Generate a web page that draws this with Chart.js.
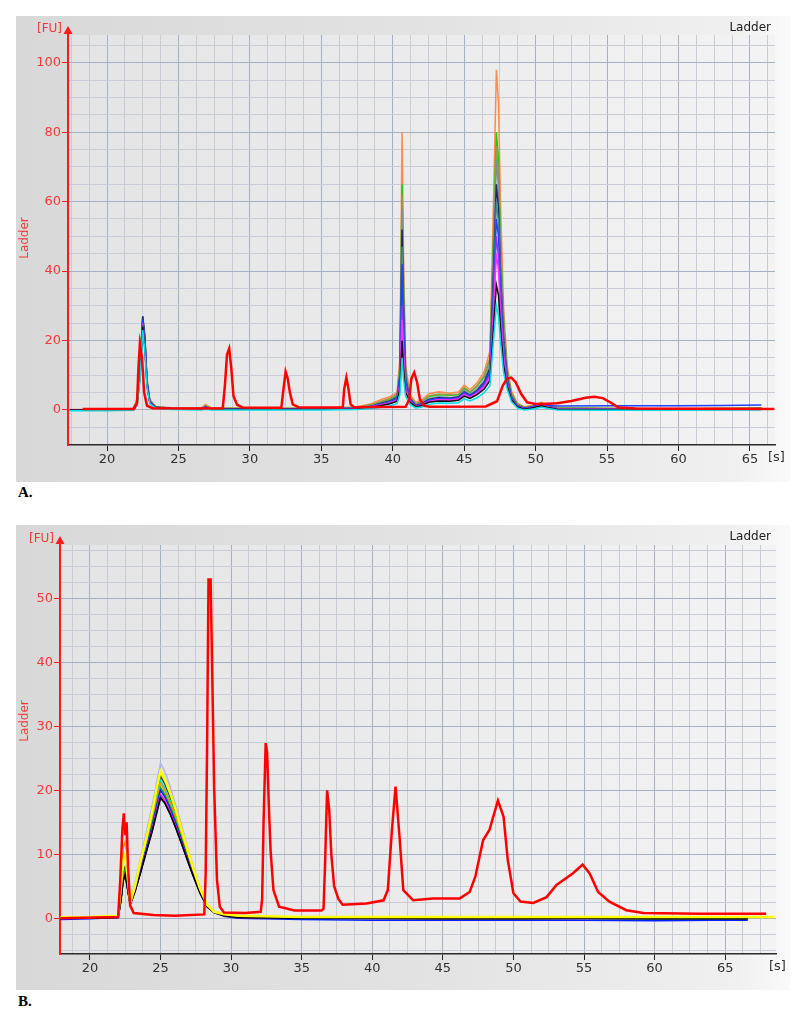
<!DOCTYPE html>
<html><head><meta charset="utf-8">
<script src="https://cdn.jsdelivr.net/npm/chart.js@4.4.0/dist/chart.umd.min.js"></script>
<style>
html,body{margin:0;padding:0;background:#fff;width:800px;height:1020px;overflow:hidden}
canvas{position:absolute}
#ca{left:16px;top:16px;width:774px;height:466px}
#cb{left:16px;top:525px;width:774px;height:465px}
.lab{position:absolute;font:bold 15px "Liberation Serif",serif;line-height:15px;left:18px}
</style></head><body>
<canvas id="ca" width="774" height="466"></canvas>
<div class="lab" style="top:485px">A.</div>
<canvas id="cb" width="774" height="465"></canvas>
<div class="lab" style="top:994px">B.</div>
<script>
// ---------- Panel A data ----------
const xTickLabelsA = [20, 25, 30, 35, 40, 45, 50, 55, 60, 65];
const yTickLabelsA = [0, 20, 40, 60, 80, 100];

const ladderTimesA = [18.3, 21.9, 22.1, 22.2, 22.3, 22.45, 22.6, 22.8, 23.2, 26, 28.1, 28.25, 28.4, 28.55, 28.7, 28.85, 29.1, 29.5, 32.2, 32.35, 32.5, 32.65, 32.8, 33.0, 33.4, 36.5, 36.6, 36.75, 36.9, 37.05, 37.3, 40.9, 41.15, 41.3, 41.5, 41.7, 41.9, 42.2, 42.6, 46.5, 47.3, 47.7, 48.0, 48.3, 48.6, 49.0, 49.4, 49.9, 50.5, 51.5, 52.5, 53.5, 54.1, 54.7, 55.3, 55.8, 57, 66.7];
const ladderValuesA = [0.3, 0.3, 2, 12, 19, 15, 5, 1.2, 0.5, 0.4, 0.5, 7, 16, 17.7, 12, 4, 1.5, 0.7, 0.6, 6, 11, 9, 5, 1.6, 0.8, 0.7, 6, 9.3, 6, 1.6, 0.8, 0.9, 3, 9, 10.8, 8, 3, 1.2, 0.9, 1.0, 2.5, 7, 9, 9.3, 8, 4.5, 2.2, 1.8, 1.7, 1.9, 2.6, 3.5, 3.8, 3.4, 2, 0.7, 0.4, 0.3];

const sampleTimesA = [17.4, 20, 21.8, 22.1, 22.3, 22.5, 22.65, 22.8, 23.0, 23.4, 24.5, 26.6, 26.9, 27.3, 30, 35, 37.5, 38.5, 39.2, 39.8, 40.3, 40.5, 40.65, 40.75, 40.9, 41.2, 41.6, 42.0, 42.5, 43.2, 44.0, 44.6, 45.0, 45.4, 45.9, 46.4, 46.8, 47.05, 47.25, 47.4, 47.55, 47.75, 48.0, 48.3, 48.7, 49.2, 49.8, 50.4, 50.8, 51.5, 55, 60, 63, 65.8];
const orangeA = [0.1,0.2,0.3,3,14,26,20,9,3,1,0.6,0.6,1.6,0.6,0.5,0.5,0.9,1.8,3,3.8,5,15,80,45,13,4.5,2.2,2.8,4.6,5.2,4.8,5.2,7.2,5.8,7.8,11,17,60,98,88,58,30,13,5.5,2,0.9,1.3,2.2,1.5,0.7,0.5,0.4,0.5,0.6];
const oliveA = [0,0.1,0.2,2.6,12,27,21,8.5,2.8,1,0.5,0.5,1.2,0.5,0.4,0.4,0.7,1.5,2.5,3.3,4.5,13,62,36,11,4,1.8,2.3,4,4.6,4.4,4.6,6.5,5.2,7,10,15,48,76,68,45,25,11,4.6,1.6,0.7,1.1,1.9,1.3,0.6,0.4,0.3,0.4,0.4];
const greenA = [0,0.1,0.2,2.5,12,27,21,8,2.6,0.9,0.5,0.4,1.1,0.4,0.4,0.4,0.7,1.4,2.3,3.1,4.2,12,65,37,10.5,3.8,1.7,2.1,3.8,4.4,4.2,4.4,6.2,5,6.8,9.5,14.5,50,80,72,47,26,11.5,4.8,1.7,0.7,1.1,1.9,1.3,0.6,0.4,0.3,0.4,0.5];
const steelA = [0,0,0.1,2.2,11,26,20,8,2.4,0.8,0.4,0.4,0.9,0.4,0.3,0.4,0.6,1.2,2,2.7,3.8,11,58,33,9.5,3.4,1.5,1.8,3.2,3.8,3.6,3.9,5.6,4.5,6,8.5,13,44,72,64,42,23,10,4.2,1.4,0.5,0.9,1.7,1.1,0.5,0.3,0.3,0.3,0.4];
const navyA = [0,0,0.1,2,11,27,21,8,2.4,0.8,0.4,0.3,0.8,0.3,0.3,0.3,0.5,1.1,1.9,2.6,3.6,10,52,30,9,3.2,1.4,1.7,3,3.5,3.4,3.7,5.2,4.2,5.6,8,12,40,65,58,38,21,9.5,4,1.3,0.5,0.9,1.6,1,0.4,0.3,0.3,0.3,0.4];
const tealA = [0,0,0.1,2,10,25,19,7.5,2.2,0.7,0.3,0.3,0.7,0.3,0.3,0.3,0.5,1,1.7,2.4,3.3,9.5,47,27,8.5,3,1.3,1.5,2.7,3.2,3.1,3.4,4.8,3.9,5.2,7.5,11,36,60,54,36,20,9,3.8,1.2,0.4,0.8,1.5,0.9,0.4,0.2,0.2,0.3,0.3];
const blueA = [-0.1,0,0.1,2,11,26,20,8,2.3,0.8,0.4,0.3,0.8,0.3,0.3,0.3,0.5,1,1.6,2.3,3.2,9,42,25,8,3,1.3,1.6,2.8,3.3,3.2,3.5,5,4.1,5.4,7.6,11,34,55,50,34,19,8.5,3.6,1.2,0.5,0.9,1.7,1.3,1.1,1.2,1.2,1.3,1.4];
const purpleA = [0,0,0.1,1.8,10,25,19,7.5,2.2,0.7,0.3,0.3,0.7,0.3,0.2,0.3,0.4,0.9,1.5,2.1,2.9,7.5,30,18,6.5,2.5,1.1,1.4,2.5,3,2.9,3.2,4.6,3.7,5,7,10,30,50,44,30,17,8,3.4,1.1,0.3,0.7,1.4,0.9,0.3,0.2,0.1,0.2,0.2];
const magentaA = [0,0,0.1,1.8,10,24,18,7,2.1,0.7,0.3,0.3,0.6,0.3,0.2,0.3,0.4,0.9,1.4,2,2.8,7,26,16,6,2.4,1.1,1.3,2.4,2.9,2.8,3.1,4.4,3.6,4.8,6.6,9.5,28,45,40,27,15,7.5,3.2,1,0.3,0.7,1.3,0.9,0.3,0.2,0.1,0.2,0.2];
const blackA = [0,0,0,1.5,9,24,18,7,2,0.6,0.2,0.2,0.5,0.2,0.2,0.2,0.3,0.8,1.3,1.8,2.5,6,20,12,5,2.2,1,1.2,2.2,2.6,2.5,2.8,4,3.3,4.4,6,8.5,24,36,33,23,13,7,3,0.9,0.2,0.6,1.2,0.8,0.2,0.1,0.1,0.1,0.2];
const cyanA = [-0.2,-0.2,-0.1,1.2,8,23,17,6.5,1.8,0.5,0.1,0,0.2,0,0,0,0.1,0.4,0.8,1.2,1.8,4.5,15,9,4,1.6,0.6,0.8,1.6,2,1.9,2.1,3.2,2.6,3.5,5,7,20,30,27,19,11,6,2.4,0.6,0,0.3,0.8,0.5,0,-0.1,-0.1,0,0];

// ---------- Panel B data ----------
const xTickLabelsB = [20, 25, 30, 35, 40, 45, 50, 55, 60, 65];
const yTickLabelsB = [0, 10, 20, 30, 40, 50];

const ladderTimesB = [17.9, 22.0, 22.15, 22.3, 22.4, 22.5, 22.6, 22.7, 22.85, 23.1, 24.5, 26, 28.1, 28.2, 28.3, 28.4, 28.55, 28.65, 28.8, 29.0, 29.2, 29.5, 31, 32.1, 32.2, 32.3, 32.45, 32.55, 32.7, 32.8, 33.0, 33.4, 34.5, 36.4, 36.55, 36.65, 36.8, 36.95, 37.1, 37.3, 37.6, 37.9, 39.6, 40.8, 41.1, 41.4, 41.65, 41.95, 42.2, 42.9, 44.3, 46.2, 46.9, 47.3, 47.85, 48.3, 48.9, 49.3, 49.6, 50.0, 50.5, 51.4, 52.35, 53.05, 54.2, 54.9, 55.4, 56.0, 56.8, 58.0, 59.2, 63.2, 67.9];
const ladderValuesB = [0, 0.2, 6, 14, 16.4, 13, 15, 8, 2, 0.8, 0.5, 0.4, 0.6, 7, 27, 53, 53, 40, 20.5, 6, 1.8, 0.9, 0.8, 1, 3, 15, 27.4, 26, 16, 10.5, 4.4, 1.8, 1.2, 1.2, 1.5, 8, 20, 17, 10, 5, 3, 2.1, 2.3, 2.8, 4.4, 14, 20.6, 12.2, 4.4, 2.8, 3.1, 3.1, 4.1, 6.5, 12.2, 13.8, 18.4, 15.9, 9.1, 3.9, 2.6, 2.4, 3.3, 5.2, 7, 8.4, 7, 4.1, 2.6, 1.25, 0.8, 0.7, 0.7];

const sampleTimesB = [17.9, 20, 22.0, 22.2, 22.35, 22.5, 22.65, 22.85, 23.2, 23.6, 24.0, 24.4, 24.75, 25.0, 25.3, 25.7, 26.1, 26.5, 26.9, 27.3, 27.8, 28.3, 28.8, 29.5, 30.5, 35, 40, 45, 50, 55, 60, 64, 66.6, 68.5];
const yellowB = [0.1,0.2,0.4,5,9,10,7,2.4,5,9,12.5,16.5,20.5,23,21.8,19.5,16.8,13.8,10.8,7.9,4.6,2.1,1,0.6,0.4,0.2,0.2,0.2,0.2,0.2,0.2,0.2,0.2,0.2];
const lavenderB = [0,0.1,0.3,3,6,7,5,2.6,5.5,9.5,13.5,17.5,21.5,24.3,23,20.5,17.5,14.5,11.2,8.3,4.8,2.2,1.1,0.6,0.3,0.1,0.1,0.1,0,0,0,0,0,null];
const limeB = [0,0.2,0.3,4,7,8,6,2.5,5,8.8,12.3,16,20,22.6,21.5,19.2,16.5,13.6,10.6,7.8,4.5,2,1,0.5,0.3,0.2,0.1,0.2,0.1,0.1,0.1,0.1,0.1,null];
const grayB = [0,0,0.2,3.5,7,8,5.5,2.3,4.8,8.5,12,15.8,19.6,22.2,21,18.8,16.2,13.4,10.4,7.6,4.4,2,1,0.5,0.2,0,0,0,0,0,0,0,0,null];
const orangeB = [0,0.1,0.4,6,11,12,7,2.3,4.6,8,11.5,15,18.6,21,20,18,15.5,12.8,10,7.3,4.3,2,1,0.5,0.3,0.1,0.1,0.1,0,0.1,0,0.1,0.1,null];
const greenB = [0,0.1,0.2,3,6.5,7.5,5,2.2,4.4,7.8,11.2,14.6,18,20.4,19.4,17.4,15,12.4,9.7,7.1,4.1,1.9,0.9,0.5,0.2,0.1,0,0.1,0,0,-0.1,-0.1,-0.1,null];
const cyanB = [0,0,0.2,3,6.5,7.5,5,2.3,4.7,8.2,11.7,15.2,19,21.5,20.4,18.3,15.8,13,10.1,7.4,4.3,2,1,0.5,0.2,0,0,0,0,0,-0.1,0,0,null];
const blueB = [-0.2,-0.1,0.1,3,6,7,5,2.2,4.4,7.7,11,14.3,17.7,20,19,17,14.7,12.1,9.5,7,4.1,1.9,0.9,0.3,0,-0.2,-0.3,-0.3,-0.3,-0.3,-0.4,-0.3,-0.3,null];
const magentaB = [0,0,0.2,3,6,7,5,2.2,4.3,7.5,10.7,13.9,17.2,19.4,18.5,16.6,14.3,11.8,9.3,6.8,4,1.8,0.9,0.4,0.1,0,0,0,0,0,0,0,0,null];
const purpleB = [0,0,0.1,2.8,5.8,6.8,4.8,2.1,4.2,7.3,10.5,13.6,16.8,19,18.1,16.3,14,11.6,9.1,6.7,3.9,1.8,0.9,0.4,0.1,0,-0.1,-0.1,-0.1,-0.1,-0.1,-0.1,-0.1,null];
const blackB = [0,0,0.1,2.8,5.8,6.8,4.8,2.1,4.2,7.2,10.4,13.5,16.6,18.8,18,16.2,14,11.6,9.1,6.7,3.9,1.8,0.9,0.4,0.1,0,0,-0.1,-0.1,0,-0.1,-0.1,-0.1,null];

// ---------- helpers ----------
function pts(times, vals) { return times.map((t, i) => ({ x: t, y: vals[i] })); }
function steps(from, to, step) { const a = []; for (let k = 0; from + k * step <= to + 1e-9; k++) a.push(Math.round((from + k * step) * 1000) / 1000); return a; }
function ds(label, times, vals, color, w) {
  return { label, data: pts(times, vals), borderColor: color, borderWidth: w, pointRadius: 0, tension: 0, fill: false, spanGaps: false };
}

const deco = {
  id: 'deco',
  beforeDraw(chart) {
    const { ctx, width, height, chartArea: a } = chart;
    ctx.save();
    const g = ctx.createLinearGradient(0, 0, width, 0);
    g.addColorStop(0, '#d8d8d8');
    g.addColorStop(0.55, '#e3e3e3');
    g.addColorStop(0.93, '#f0f0f0');
    g.addColorStop(1, '#fafafa');
    ctx.fillStyle = g;
    ctx.fillRect(0, 0, width, height);
    const g2 = ctx.createLinearGradient(a.left, 0, a.right, 0);
    g2.addColorStop(0, '#e4e4e4');
    g2.addColorStop(1, '#f3f3f3');
    ctx.fillStyle = g2;
    ctx.fillRect(a.left, a.top, a.right - a.left, a.bottom - a.top);
    ctx.restore();
  },
  afterDraw(chart, args, o) {
    const { ctx, width, chartArea: a } = chart;
    ctx.save();
    ctx.strokeStyle = '#ff1a1a';
    ctx.fillStyle = '#ff1a1a';
    ctx.lineWidth = 2;
    ctx.beginPath(); ctx.moveTo(a.left, a.top); ctx.lineTo(a.left, a.top - 3); ctx.stroke();
    ctx.beginPath();
    ctx.moveTo(a.left, a.top - 9);
    ctx.lineTo(a.left - 4.5, a.top - 1);
    ctx.lineTo(a.left + 4.5, a.top - 1);
    ctx.closePath(); ctx.fill();
    ctx.font = '12px "DejaVu Sans"';
    ctx.fillStyle = '#f03a3a';
    ctx.textAlign = 'right'; ctx.textBaseline = 'alphabetic';
    ctx.fillText('[FU]', a.left - 6, a.top - 3);
    ctx.fillStyle = '#202020';
    ctx.fillText('Ladder', width - 19, 15);
    ctx.textAlign = 'left'; ctx.textBaseline = 'middle';
    ctx.font = '13px "DejaVu Sans"';
    ctx.fillStyle = '#303030';
    ctx.fillText('[s]', a.right - 7, a.bottom + 13);
    ctx.translate(9, o.titleY);
    ctx.rotate(-Math.PI / 2);
    ctx.textAlign = 'center';
    ctx.font = '12px "DejaVu Sans"';
    ctx.fillStyle = '#f03a3a';
    ctx.fillText('Ladder', 0, 0);
    ctx.restore();
  }
};

function makePanel(id, P, datasets) {
  const xGrid = steps(P.xGridFrom, P.xMax, 1.25);
  const yGrid = steps(P.yGridFrom, P.yMax, P.yStep);
  const isXL = v => P.xLabels.includes(v);
  const isYL = v => P.yLabels.includes(v);
  new Chart(document.getElementById(id), {
    type: 'line',
    data: { datasets },
    plugins: [deco],
    options: {
      responsive: false, animation: false, events: [],
      layout: { padding: { top: P.padTop, right: P.padRight, left: 0, bottom: 0 } },
      plugins: { legend: { display: false }, tooltip: { enabled: false }, title: { display: false }, deco: { titleY: P.titleY } },
      scales: {
        x: {
          type: 'linear', bounds: 'data', min: P.xMin, max: P.xMax,
          afterBuildTicks: s => { s.ticks = xGrid.map(v => ({ value: v })); },
          afterFit: s => { s.height = P.xHeight; },
          ticks: { autoSkip: false, maxRotation: 0, minRotation: 0, padding: 1, color: '#303030',
            font: { family: 'DejaVu Sans', size: 13 }, callback: v => isXL(v) ? String(v) : '' },
          grid: { color: c => isXL(c.tick.value) ? '#a6b0c4' : '#c8ccd5', lineWidth: 1, drawTicks: true, tickLength: 6,
            tickColor: c => isXL(c.tick.value) ? '#202020' : 'rgba(0,0,0,0)' },
          border: { display: true, color: '#2a2a2a', width: 1.5 }
        },
        y: {
          type: 'linear', bounds: 'data', min: P.yMin, max: P.yMax,
          afterBuildTicks: s => { s.ticks = yGrid.map(v => ({ value: v })); },
          afterFit: s => { s.width = P.yWidth; },
          ticks: { autoSkip: false, padding: 1, color: '#f03a3a',
            font: { family: 'DejaVu Sans', size: 13 }, callback: v => isYL(v) ? String(v) : '' },
          grid: { color: c => isYL(c.tick.value) ? '#a6b0c4' : '#c8ccd5', lineWidth: 1, drawTicks: true, tickLength: 6,
            tickColor: c => isYL(c.tick.value) ? '#ff1a1a' : 'rgba(0,0,0,0)' },
          border: { display: true, color: '#ff1a1a', width: 2 }
        }
      }
    }
  });
}

// lower-peaked samples drawn on top so the stacked colours show along the spikes
makePanel('ca', { xMin: 17.27, xMax: 66.75, yMin: -10.1, yMax: 108, xGridFrom: 17.5, yGridFrom: -10, yStep: 5,
  xLabels: xTickLabelsA, yLabels: yTickLabelsA, yWidth: 52, padTop: 19, padRight: 15, xHeight: 37, titleY: 222 }, [
  ds('Ladder', ladderTimesA, ladderValuesA, '#ff0000', 2.5),
  ds('S11', sampleTimesA, cyanA, '#00e0e8', 1.5),
  ds('S10', sampleTimesA, blackA, '#101010', 1.5),
  ds('S9', sampleTimesA, magentaA, '#ff30ff', 1.5),
  ds('S8', sampleTimesA, purpleA, '#9b30ff', 1.5),
  ds('S7', sampleTimesA, blueA, '#2040ff', 1.5),
  ds('S6', sampleTimesA, tealA, '#3f8f8f', 1.5),
  ds('S5', sampleTimesA, navyA, '#22226e', 1.5),
  ds('S4', sampleTimesA, steelA, '#7b8e9e', 1.5),
  ds('S2', sampleTimesA, oliveA, '#9a9a48', 1.5),
  ds('S3', sampleTimesA, greenA, '#10d010', 1.5),
  ds('S1', sampleTimesA, orangeA, '#ff8a4a', 1.5)
]);

makePanel('cb', { xMin: 17.88, xMax: 68.6, yMin: -5.6, yMax: 58.4, xGridFrom: 18.75, yGridFrom: -5, yStep: 2.5,
  xLabels: xTickLabelsB, yLabels: yTickLabelsB, yWidth: 44, padTop: 20, padRight: 14, xHeight: 36, titleY: 196 }, [
  ds('Ladder', ladderTimesB, ladderValuesB, '#ff0000', 2.5),
  ds('S1', sampleTimesB, yellowB, '#ffff00', 2.5),
  ds('S11', sampleTimesB, blackB, '#000000', 1.5),
  ds('S10', sampleTimesB, purpleB, '#302080', 1.5),
  ds('S9', sampleTimesB, magentaB, '#ff20ff', 1.5),
  ds('S8', sampleTimesB, blueB, '#0020ff', 1.5),
  ds('S6', sampleTimesB, greenB, '#00b000', 1.5),
  ds('S5', sampleTimesB, orangeB, '#ff9000', 1.5),
  ds('S7', sampleTimesB, cyanB, '#00d8d8', 1.5),
  ds('S4', sampleTimesB, grayB, '#404040', 1.5),
  ds('S3', sampleTimesB, limeB, '#8cf020', 1.5),
  ds('S2', sampleTimesB, lavenderB, '#b4b4f0', 1.5)
]);
</script></body></html>
